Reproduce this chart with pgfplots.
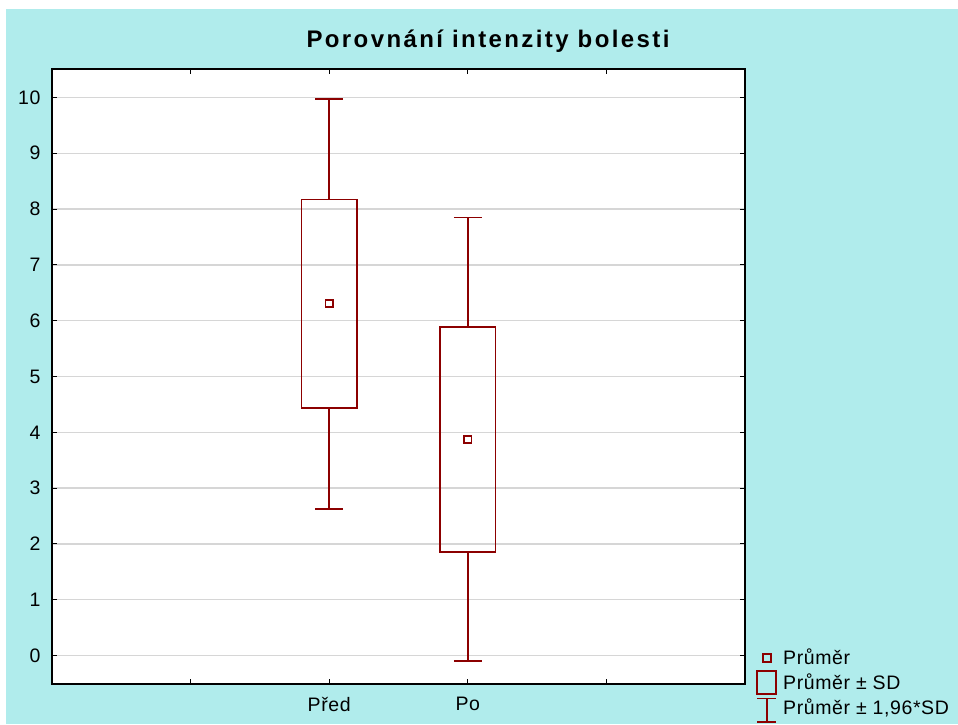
\documentclass[border=0pt]{standalone}
\usepackage{fontspec}
\setmainfont{Liberation Sans}
\usepackage{pgfplots}
\usepgfplotslibrary{statistics}
\pgfplotsset{compat=1.18}
\definecolor{bg}{RGB}{176,236,236}
\definecolor{dred}{RGB}{140,0,0}
\definecolor{gridc}{RGB}{214,214,214}
\newcommand{\lblfont}{\fontsize{19.5}{22}\selectfont\addfontfeature{LetterSpace=3}}
\begin{document}
\begin{tikzpicture}
\fill[white] (-52pt,-40pt) rectangle (906pt,684pt);
\fill[bg] (-46pt,-40pt) rectangle (906pt,675pt);
\node[anchor=base, font=\bfseries\fontsize{24}{27}\selectfont\addfontfeature{LetterSpace=10}] at (436pt,636.3pt) {Porovnání intenzity bolesti};
\begin{axis}[
  at={(0pt,0pt)}, anchor=south west,
  scale only axis, width=693pt, height=615pt,
  xmin=0, xmax=5, ymin=-0.51, ymax=10.51,
  axis background/.style={fill=white},
  axis line style={line width=1.6pt, black},
  tick style={line width=1pt, black},
  major tick length=5pt,
  tick align=inside, tick pos=both,
  xtick={1,2,3,4}, xticklabels={,Před,Po,},
  ytick={0,1,2,3,4,5,6,7,8,9,10},
  ymajorgrids, grid style={line width=1.5pt, gridc},
  ticklabel style={font=\lblfont},
  yticklabel style={xshift=-8pt},
  xticklabel style={yshift=-10pt},
  /pgf/number format/assume math mode=true,
  boxplot/draw direction=y,
  legend cell align=left,
  legend style={draw=none, fill=none, inner sep=0pt, at={(1,0)}, anchor=south west, xshift=12pt, yshift=-39pt,
    font=\lblfont, row sep=0pt, column sep=0pt,
    nodes={inner sep=0pt, text height=17pt, text depth=8pt}},
]
\addplot[dred, line width=1.8pt, forget plot, boxplot/every box/.style={draw=dred, line width=1.8pt}, boxplot prepared={draw position=2, lower whisker=2.63, lower quartile=4.44, median=6.31, upper quartile=8.17, upper whisker=9.97, box extend=0.4, whisker extend=0.2, every median/.style={draw=none}}] coordinates {};
\addplot[dred, line width=1.8pt, forget plot, boxplot/every box/.style={draw=dred, line width=1.8pt}, boxplot prepared={draw position=3, lower whisker=-0.10, lower quartile=1.86, median=3.87, upper quartile=5.89, upper whisker=7.85, box extend=0.4, whisker extend=0.2, every median/.style={draw=none}}] coordinates {};
\addplot[only marks, mark=square, mark size=3.6pt, dred, line width=1.6pt, forget plot] coordinates {(2,6.31) (3,3.87)};
\addlegendimage{legend image code/.code={\draw[overlay, dred, line width=1.6pt] (5.5pt,-1.5pt) rectangle (13.5pt,6.5pt); \path[draw=none, fill=none] (0pt,-12.5pt) rectangle (26pt,12.5pt);}}
\addlegendentry{Průměr}
\addlegendimage{legend image code/.code={\draw[overlay, dred, line width=1.6pt] (0pt,-8.5pt) rectangle (19pt,14.5pt); \path[draw=none, fill=none] (0pt,-12.5pt) rectangle (26pt,12.5pt);}}
\addlegendentry{Průměr ± SD}
\addlegendimage{legend image code/.code={\draw[overlay, dred, line width=1.6pt] (9.5pt,-11.5pt) -- (9.5pt,11.8pt) (0pt,11.8pt) -- (19pt,11.8pt) (0pt,-11.5pt) -- (19pt,-11.5pt); \path[draw=none, fill=none] (0pt,-12.5pt) rectangle (26pt,12.5pt);}}
\addlegendentry{Průměr ± 1,96*SD}
\end{axis}
\end{tikzpicture}
\end{document}
